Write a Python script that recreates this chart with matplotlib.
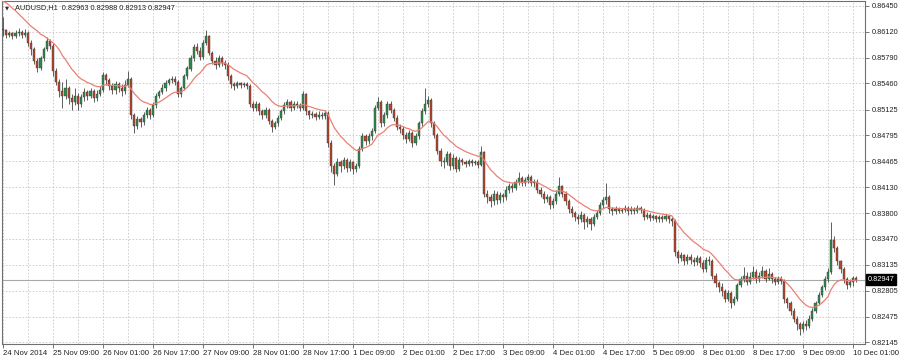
import matplotlib

matplotlib.use("Agg")
import matplotlib.pyplot as plt
import numpy as np

# AUDUSD H1, prices in pips (price * 10000); first bar is 24 Nov 17:00
close_pips = [
    8614, 8608, 8610, 8607, 8610, 8612, 8608, 8611, 8598, 8590,
    8575, 8566, 8578, 8590, 8600, 8594, 8562, 8548, 8536, 8530,
    8540, 8527, 8522, 8530, 8520, 8528, 8535, 8530, 8536, 8527,
    8533, 8538, 8557, 8550, 8542, 8537, 8545, 8540, 8536, 8544,
    8552, 8505, 8492, 8500, 8496, 8505, 8512, 8506, 8518, 8530,
    8535, 8540, 8547, 8550, 8552, 8548, 8532, 8540, 8555, 8565,
    8578, 8592, 8588, 8580, 8598, 8606, 8585, 8575, 8570, 8578,
    8572, 8570, 8555, 8545, 8543, 8546, 8544, 8545, 8543, 8520,
    8515, 8520, 8510, 8505, 8512, 8498, 8490, 8495, 8502, 8510,
    8518, 8522, 8515, 8520, 8518, 8515, 8532, 8510, 8505, 8507,
    8503, 8506, 8504, 8508, 8470, 8440, 8430, 8445, 8440, 8448,
    8438, 8445, 8437, 8440, 8462, 8478, 8472, 8478, 8485, 8515,
    8522, 8495, 8505, 8520, 8512, 8502, 8490, 8488, 8480, 8475,
    8482, 8470, 8478, 8495, 8510, 8520, 8525, 8495, 8480, 8460,
    8447, 8445, 8455, 8440, 8450, 8437, 8448, 8445, 8443, 8446,
    8444, 8445, 8442, 8458, 8405, 8400, 8395, 8405, 8397, 8403,
    8400, 8410, 8415, 8412, 8420, 8425, 8418, 8422, 8426, 8418,
    8420, 8410, 8405, 8398, 8400, 8390, 8395, 8405, 8414, 8405,
    8395, 8385, 8380, 8375, 8372, 8378, 8368, 8372, 8366, 8375,
    8380, 8390, 8397, 8400, 8385, 8382, 8385, 8383, 8384, 8386,
    8382, 8385, 8383, 8386, 8384, 8375, 8378, 8374, 8376, 8372,
    8375, 8373, 8376, 8372, 8370, 8330, 8322, 8326, 8318, 8324,
    8320, 8317, 8322, 8316, 8308, 8320, 8319, 8300, 8290, 8285,
    8280, 8270, 8278, 8265, 8270, 8288, 8295, 8300, 8292, 8298,
    8305, 8295, 8300, 8306, 8296, 8302, 8295, 8292, 8296, 8293,
    8270, 8265, 8255, 8245, 8238, 8232, 8238, 8236, 8245, 8255,
    8265, 8275, 8285, 8295, 8305, 8345, 8335, 8318, 8308, 8295,
    8288, 8292, 8296.3, 8294.7,
]
high_pips = [
    8631, 8616, 8613, 8612, 8614, 8617, 8614, 8615, 8613, 8601,
    8593, 8578, 8581, 8593, 8605, 8603, 8598, 8566, 8552, 8548,
    8552, 8543, 8533, 8540, 8534, 8532, 8540, 8538, 8540, 8539,
    8537, 8542, 8560, 8559, 8553, 8546, 8549, 8548, 8545, 8550,
    8562, 8554, 8508, 8504, 8503, 8509, 8516, 8515, 8522, 8534,
    8538, 8545, 8550, 8553, 8556, 8555, 8550, 8543, 8558, 8568,
    8582, 8596, 8598, 8592, 8602, 8614, 8608, 8588, 8580, 8582,
    8581, 8576, 8573, 8558, 8548, 8549, 8548, 8548, 8548, 8545,
    8524, 8523, 8522, 8513, 8516, 8514, 8500, 8498, 8505, 8513,
    8522, 8526, 8525, 8524, 8523, 8521, 8536, 8534, 8512, 8511,
    8509, 8510, 8509, 8512, 8510, 8473, 8444, 8450, 8448, 8452,
    8450, 8449, 8447, 8444, 8466, 8482, 8481, 8482, 8489, 8518,
    8528, 8525, 8509, 8524, 8523, 8515, 8505, 8494, 8491, 8484,
    8486, 8485, 8482, 8498, 8514, 8540, 8530, 8527, 8498, 8483,
    8463, 8452, 8460, 8458, 8455, 8453, 8452, 8451, 8448, 8449,
    8449, 8448, 8448, 8466, 8460, 8410, 8404, 8409, 8408, 8407,
    8406, 8414, 8419, 8418, 8424, 8433, 8428, 8426, 8430, 8429,
    8424, 8423, 8413, 8408, 8404, 8403, 8399, 8409, 8426, 8416,
    8408, 8398, 8389, 8383, 8379, 8382, 8380, 8376, 8375, 8379,
    8384, 8394, 8401, 8418, 8403, 8388, 8389, 8388, 8387, 8390,
    8389, 8389, 8388, 8390, 8389, 8387, 8381, 8380, 8379, 8378,
    8378, 8377, 8379, 8378, 8375, 8372, 8333, 8330, 8328, 8328,
    8327, 8324, 8326, 8325, 8320, 8324, 8325, 8321, 8303, 8293,
    8290, 8283, 8281, 8280, 8274, 8291, 8299, 8311, 8304, 8305,
    8312, 8308, 8304, 8312, 8309, 8310, 8305, 8298, 8300, 8299,
    8296, 8273, 8268, 8258, 8248, 8241, 8242, 8243, 8249, 8258,
    8268, 8279, 8288, 8299, 8310, 8368, 8350, 8338, 8320, 8311,
    8298, 8296, 8299, 8298.8,
]
low_pips = [
    8607, 8604, 8605, 8603, 8604, 8606, 8604, 8605, 8594, 8582,
    8571, 8560, 8563, 8575, 8587, 8590, 8556, 8544, 8528, 8515,
    8526, 8520, 8512, 8518, 8512, 8516, 8524, 8525, 8527, 8522,
    8524, 8530, 8535, 8544, 8537, 8532, 8533, 8535, 8530, 8533,
    8541, 8500, 8482, 8488, 8490, 8493, 8502, 8500, 8503, 8515,
    8527, 8533, 8536, 8544, 8546, 8544, 8528, 8529, 8537, 8552,
    8562, 8575, 8584, 8576, 8577, 8595, 8582, 8571, 8565, 8567,
    8568, 8565, 8550, 8540, 8538, 8540, 8540, 8541, 8539, 8516,
    8510, 8511, 8505, 8500, 8502, 8494, 8484, 8487, 8492, 8499,
    8507, 8514, 8511, 8512, 8514, 8511, 8512, 8506, 8501, 8502,
    8499, 8500, 8500, 8501, 8465, 8432, 8416, 8427, 8433, 8436,
    8433, 8434, 8430, 8432, 8438, 8460, 8467, 8469, 8474, 8482,
    8512, 8490, 8491, 8502, 8508, 8498, 8486, 8483, 8475, 8470,
    8472, 8465, 8467, 8475, 8492, 8507, 8516, 8490, 8476, 8455,
    8440, 8438, 8442, 8435, 8437, 8432, 8434, 8441, 8439, 8440,
    8440, 8441, 8438, 8440, 8400, 8393, 8388, 8390, 8392, 8393,
    8394, 8397, 8406, 8407, 8409, 8416, 8414, 8414, 8419, 8414,
    8413, 8406, 8400, 8393, 8394, 8385, 8386, 8392, 8402, 8400,
    8390, 8380, 8375, 8370, 8366, 8368, 8360, 8362, 8358, 8363,
    8372, 8377, 8386, 8392, 8380, 8378, 8379, 8380, 8380, 8381,
    8378, 8379, 8379, 8380, 8380, 8371, 8372, 8370, 8371, 8368,
    8369, 8368, 8370, 8367, 8364, 8325, 8316, 8318, 8313, 8315,
    8315, 8312, 8314, 8311, 8304, 8305, 8314, 8296, 8285, 8279,
    8274, 8266, 8267, 8258, 8262, 8268, 8285, 8292, 8288, 8289,
    8295, 8291, 8292, 8297, 8292, 8294, 8290, 8288, 8289, 8289,
    8265, 8258, 8250, 8240, 8230, 8224, 8228, 8230, 8233, 8242,
    8252, 8262, 8272, 8282, 8292, 8302, 8330, 8313, 8303, 8290,
    8283, 8285, 8286, 8291.3,
]
first_open_pips = 8616

# moving average as read from the left edge (before enough bars are shown)
ma_head_pips = [8651, 8649, 8646, 8642, 8639, 8635, 8631, 8627, 8623, 8619,
                8616, 8613, 8609, 8607, 8604, 8601, 8598, 8594, 8589]
ma_period = 15

date_labels = ["24 Nov 2014", "25 Nov 09:00", "26 Nov 01:00", "26 Nov 17:00",
               "27 Nov 09:00", "28 Nov 01:00", "28 Nov 17:00", "1 Dec 09:00",
               "2 Dec 01:00", "2 Dec 17:00", "3 Dec 09:00", "4 Dec 01:00",
               "4 Dec 17:00", "5 Dec 09:00", "8 Dec 01:00", "8 Dec 17:00",
               "9 Dec 09:00", "10 Dec 01:00"]
price_ticks = [0.86450, 0.86120, 0.85790, 0.85460, 0.85125, 0.84795, 0.84465,
               0.84130, 0.83800, 0.83470, 0.83135, 0.82805, 0.82475, 0.82145]
symbol = "AUDUSD,H1"
bid = 0.82947

closes = np.array(close_pips) / 10000.0
highs = np.array(high_pips) / 10000.0
lows = np.array(low_pips) / 10000.0
opens = np.concatenate([[first_open_pips / 10000.0], closes[:-1]])
xs = np.arange(len(closes))

# exponential MA seeded with the values read at the left edge
ma = list(np.array(ma_head_pips) / 10000.0)
alpha = 2.0 / (ma_period + 1)
for c in closes[len(ma):]:
    ma.append(ma[-1] + alpha * (c - ma[-1]))
ma = np.array(ma)

W, H = 900, 359
fig = plt.figure(figsize=(W / 100, H / 100), dpi=100)
fig.patch.set_facecolor("white")
ax = fig.add_axes([2 / W, (H - 344) / H, 863 / W, 343 / H])

px_per_bar = 3.125
px_per_price = 1.0 / 0.000128
ax.set_xlim(-1.0 / px_per_bar, 862.0 / px_per_bar)
ax.set_ylim(price_ticks[0] - 338 / px_per_price, price_ticks[0] + 5 / px_per_price)

grid_kw = dict(color="#c8c8c8", linewidth=0.6, linestyle=(0, (2, 2)), zorder=0)
for p in price_ticks:
    ax.axhline(p, **grid_kw)
for g in range(0, len(closes) + 8, 8):
    ax.axvline(g, **grid_kw)

ax.axhline(bid, color="#a8a8a8", linewidth=0.8, zorder=1)

bull = closes >= opens
ax.vlines(xs, lows, highs, color="#454545", linewidth=0.6, zorder=2)
body_bottom = np.minimum(opens, closes)
body_height = np.maximum(np.abs(closes - opens), 0.00002)
ax.bar(xs[bull], body_height[bull], bottom=body_bottom[bull], width=0.66,
       color="#2e8b4e", edgecolor="#3a3a3a", linewidth=0.3, zorder=3)
ax.bar(xs[~bull], body_height[~bull], bottom=body_bottom[~bull], width=0.66,
       color="#b9452c", edgecolor="#3a3a3a", linewidth=0.3, zorder=3)

ax.plot(xs, ma, color="#eb7f74", linewidth=0.9, zorder=4)

font = "Liberation Sans"
ax.yaxis.tick_right()
ax.set_yticks(price_ticks)
ax.set_yticklabels([f"{p:.5f}" for p in price_ticks], fontsize=5.3,
                   family=font, color="#202020")
ax.tick_params(axis="y", length=3, width=0.6, color="#606060", pad=2)

ax.set_xticks(np.arange(0, 16 * len(date_labels), 16))
ax.set_xticklabels(date_labels, fontsize=5.6, family=font, color="#202020")
for lbl in ax.get_xticklabels():
    lbl.set_horizontalalignment("left")
ax.tick_params(axis="x", length=3, width=0.6, color="#606060", pad=1.5)

for s in ax.spines.values():
    s.set_color("#707070")
    s.set_linewidth(0.8)

ax.text(1.003, (bid - ax.get_ylim()[0]) / (ax.get_ylim()[1] - ax.get_ylim()[0]),
        f"{bid:.5f}", transform=ax.transAxes, fontsize=5.3, family=font,
        color="white", va="center", ha="left", zorder=10,
        bbox=dict(boxstyle="square,pad=0.25", facecolor="black", edgecolor="black"))

fig.text(5 / W, 1 - 7.5 / H, "\u25BC", fontsize=3.8, family="DejaVu Sans",
         color="#303030", va="center", ha="left")
fig.text(15 / W, 1 - 7.5 / H, f"{symbol}  0.82963 0.82988 0.82913 0.82947",
         fontsize=5.3, family=font, color="#202020", va="center", ha="left")

fig.savefig("out.png", dpi=100, facecolor="white")
plt.close(fig)
